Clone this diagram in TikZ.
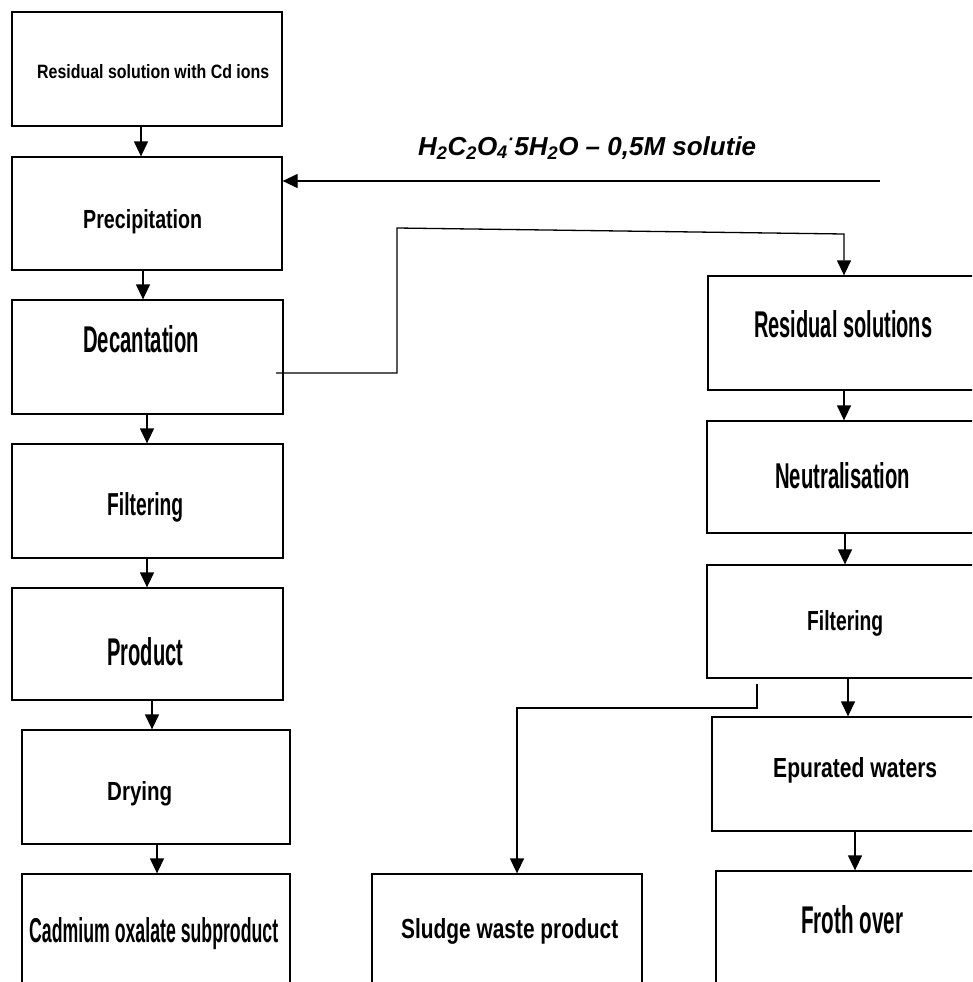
\documentclass[tikz,border=0pt]{standalone}
\usepackage{fontspec}
\setmainfont{Liberation Sans}
\usepackage{graphicx}
\usetikzlibrary{arrows.meta}
\tikzset{
  box/.style={draw, line width=1.3pt, rectangle, inner sep=0pt},
  lbl/.style={anchor=base west, inner sep=0pt, font=\bfseries},
  arr/.style={line width=1.3pt, -{Triangle[length=15pt,width=14pt]}},
  link/.style={line width=1.3pt},
}
\begin{document}
\begin{tikzpicture}[x=1pt,y=-1pt]
\useasboundingbox (0,0) rectangle (972,982);
\clip (0,0) rectangle (972,982);
\fill[white] (0,0) rectangle (972,982);

% left column boxes
\node[box, minimum width=270pt, minimum height=114pt] (B1) at (147,69) {};
\node[box, minimum width=270pt, minimum height=113pt] (B2) at (147,213.5) {};
\node[box, minimum width=271pt, minimum height=114pt] (B3) at (147.5,357) {};
\node[box, minimum width=271pt, minimum height=114pt] (B4) at (147.5,501) {};
\node[box, minimum width=271pt, minimum height=112pt] (B5) at (147.5,644) {};
\node[box, minimum width=268pt, minimum height=114pt] (B6) at (156,787) {};
\node[box, minimum width=268pt, minimum height=126pt] (B7) at (156,937) {};
% right column boxes
\node[box, minimum width=292pt, minimum height=114pt] (R1) at (854,333) {};
\node[box, minimum width=293pt, minimum height=112pt] (R2) at (853.5,477) {};
\node[box, minimum width=293pt, minimum height=113pt] (R3) at (853.5,621.5) {};
\node[box, minimum width=288pt, minimum height=114pt] (R4) at (856,774) {};
\node[box, minimum width=284pt, minimum height=129pt] (R5) at (858,935.5) {};
\node[box, minimum width=270pt, minimum height=126pt] (S) at (507,937) {};

% labels
\node[lbl] (t1) at (37,78) {\resizebox{232pt}{14pt}{Residual solution with Cd ions}};
\node[lbl] (t2) at (83,228) {\resizebox{119pt}{19pt}{Precipitation}};
\node[lbl] (t3) at (83,352) {\resizebox{116pt}{27pt}{Decantation}};
\node[lbl] (t4) at (107,515) {\resizebox{76pt}{23pt}{Filtering}};
\node[lbl] (t5) at (107,665) {\resizebox{76pt}{28pt}{Product}};
\node[lbl] (t6) at (107,800) {\resizebox{65pt}{19pt}{Drying}};
\node[lbl] (t7) at (29,942) {\resizebox{249pt}{25pt}{Cadmium oxalate subproduct}};
\node[lbl] (r1) at (754,337) {\resizebox{178pt}{27pt}{Residual solutions}};
\node[lbl] (r2) at (775,488) {\resizebox{135pt}{26pt}{Neutralisation}};
\node[lbl] (r3) at (807,630) {\resizebox{76pt}{20pt}{Filtering}};
\node[lbl] (r4) at (773,777) {\resizebox{164pt}{20pt}{Epurated waters}};
\node[lbl] (r5) at (801,933) {\resizebox{102pt}{28pt}{Froth over}};
\node[lbl] (s1) at (401,938) {\resizebox{217pt}{20pt}{Sludge waste product}};
\node[lbl] (h) at (418,155) {\fontsize{26}{30}\selectfont\bfseries\itshape\resizebox{338pt}{!}{H\textsubscript{2}C\textsubscript{2}O\textsubscript{4}\textsuperscript{·}5H\textsubscript{2}O – 0,5M solutie}};

% left column arrows
\draw[arr] (B1.south -| 141,0) -- (B2.north -| 141,0);
\draw[arr] (B2.south -| 143,0) -- (B3.north -| 143,0);
\draw[arr] (B3.south -| 147,0) -- (B4.north -| 147,0);
\draw[arr] (B4.south -| 147,0) -- (B5.north -| 147,0);
\draw[arr] (B5.south -| 152,0) -- (B6.north -| 152,0);
\draw[arr] (B6.south -| 157,0) -- (B7.north -| 157,0);
% right column arrows
\draw[arr] (R1.south -| 844,0) -- (R2.north -| 844,0);
\draw[arr] (R2.south -| 845,0) -- (R3.north -| 845,0);
\draw[arr] (R3.south -| 848,0) -- (R4.north -| 848,0);
\draw[arr] (R4.south -| 855,0) -- (R5.north -| 855,0);

% reagent input
\coordinate (hin) at (880,181);
\draw[arr] (hin) -- (B2.east |- hin);

% decantation to residual solutions
\coordinate (d0) at (276,373);
\coordinate (d1) at (397,373);
\coordinate (d2) at (397,228);
\coordinate (d3) at (844,234);
\draw[arr] (d0) -- (d1) -- (d2) -- (d3) -- (R1.north -| d3);

% filtering to sludge
\coordinate (s0) at (757,684);
\coordinate (s2) at (757,708);
\coordinate (s3) at (517,708);
\draw[arr] (s0) -- (s2) -- (s3) -- (S.north -| s3);
\end{tikzpicture}
\end{document}
